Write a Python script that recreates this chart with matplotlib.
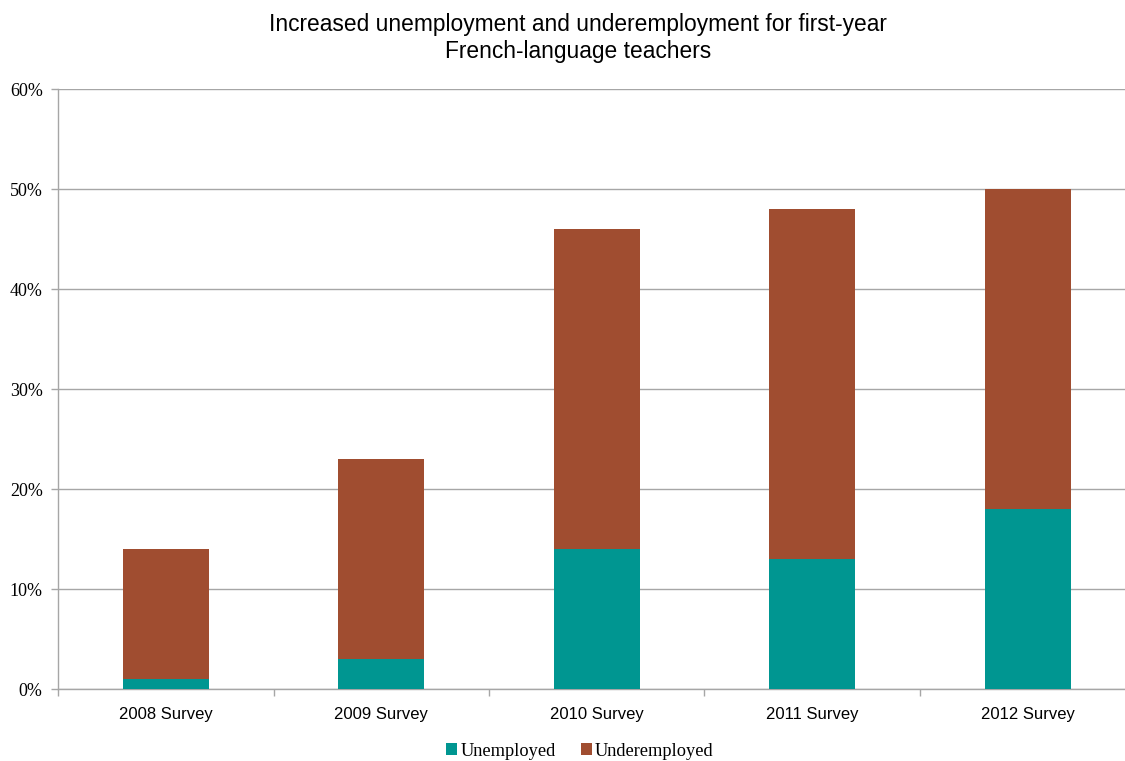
import numpy as np
import matplotlib.pyplot as plt
from matplotlib.ticker import FuncFormatter, FixedLocator

surveys = ['2008 Survey', '2009 Survey', '2010 Survey', '2011 Survey', '2012 Survey']
unemployed = [1, 3, 14, 13, 18]
underemployed = [13, 20, 32, 35, 32]

teal = '#009691'
brown = '#a04d30'
grid = '#a6a6a6'

fig = plt.figure(figsize=(11.25, 7.61), dpi=100)
ax = fig.add_axes([58 / 1125, 72 / 761, 1077.5 / 1125, 600 / 761])

x = np.arange(len(surveys))
w = 0.4
ax.bar(x, unemployed, w, color=teal, label='Unemployed', zorder=3)
ax.bar(x, underemployed, w, bottom=unemployed, color=brown, label='Underemployed', zorder=3)

ax.set_xlim(-0.5, len(surveys) - 0.5)
ax.set_ylim(0, 60)
ax.set_yticks(range(0, 61, 10))
ax.yaxis.set_major_formatter(FuncFormatter(lambda v, p: f'{int(v)}%'))
ax.yaxis.grid(True, color=grid, linewidth=1, zorder=0)

# category labels centred, tick marks at the boundaries
ax.set_xticks(x)
ax.set_xticklabels(surveys, family='Liberation Sans', fontsize=12)
ax.tick_params(axis='x', which='major', length=0, pad=13)
ax.xaxis.set_minor_locator(FixedLocator(np.arange(-0.5, len(surveys), 1)))
ax.tick_params(axis='x', which='minor', length=5, color=grid, width=1)
ax.tick_params(axis='y', length=5, color=grid, width=1, pad=6)
for lab in ax.get_yticklabels():
    lab.set_family('Liberation Serif')
    lab.set_fontsize(13)

for s in ['top', 'right']:
    ax.spines[s].set_visible(False)
ax.spines['left'].set_color(grid)
ax.spines['bottom'].set_color(grid)
ax.spines['left'].set_linewidth(1)
ax.spines['bottom'].set_linewidth(1)

fig.suptitle('Increased unemployment and underemployment for first-year\nFrench-language teachers',
             x=578 / 1125, y=0.983, fontsize=16.4, family='Liberation Sans', linespacing=1.2)

fig.legend(loc='center', bbox_to_anchor=(580 / 1125, 10 / 761), ncol=2, frameon=False,
           prop={'family': 'Liberation Serif', 'size': 13.2},
           handlelength=0.6, handleheight=0.6, handletextpad=0.15, columnspacing=1.4)

fig.savefig('out.png', dpi=100)
